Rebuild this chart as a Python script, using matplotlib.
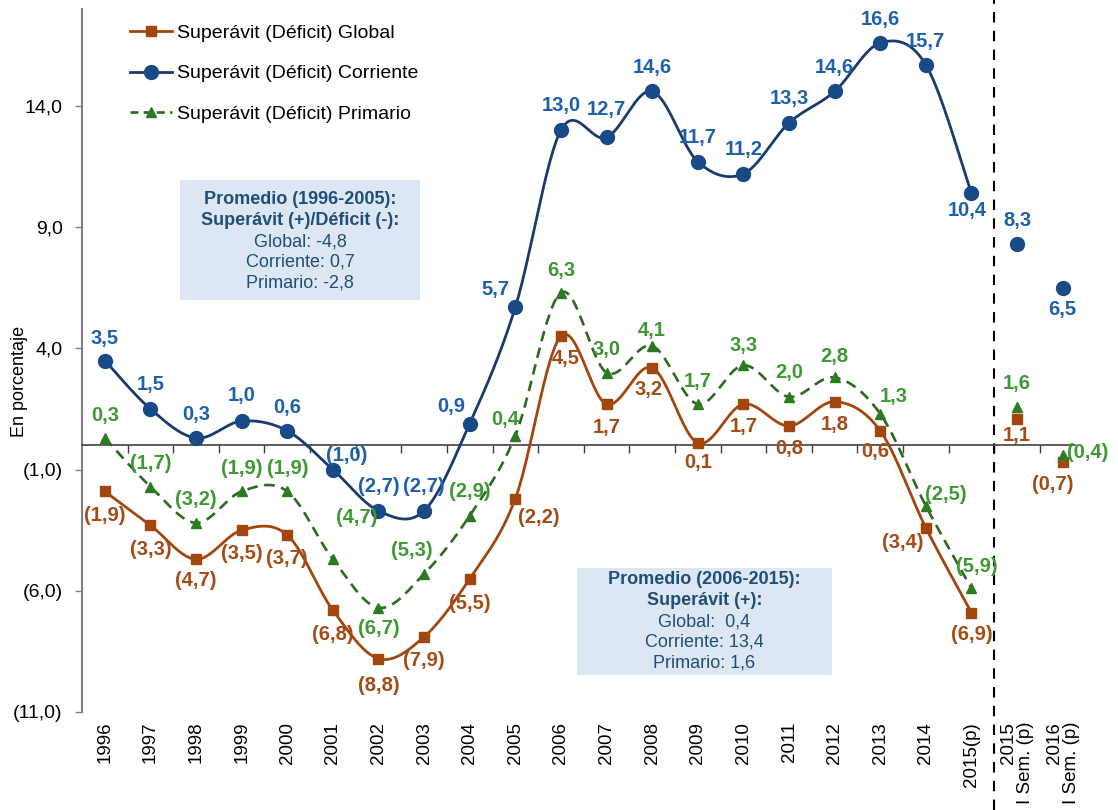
import numpy as np
import matplotlib.pyplot as plt
import matplotlib.transforms as mtransforms
from matplotlib.patches import Rectangle
from matplotlib.lines import Line2D

plt.rcParams['font.family'] = ['Liberation Sans', 'DejaVu Sans']

# Datos (en porcentaje)
categorias = ['1996', '1997', '1998', '1999', '2000', '2001', '2002', '2003',
              '2004', '2005', '2006', '2007', '2008', '2009', '2010', '2011',
              '2012', '2013', '2014', '2015(p)',
              '2015\nI Sem. (p)', '2016\nI Sem. (p)']

global_ = [-1.9, -3.3, -4.7, -3.5, -3.7, -6.8, -8.8, -7.9, -5.5, -2.2,
           4.5, 1.7, 3.2, 0.1, 1.7, 0.8, 1.8, 0.6, -3.4, -6.9]
corriente = [3.5, 1.5, 0.3, 1.0, 0.6, -1.0, -2.7, -2.7, 0.9, 5.7,
             13.0, 12.7, 14.6, 11.7, 11.2, 13.3, 14.6, 16.6, 15.7, 10.4]
primario = [0.3, -1.7, -3.2, -1.9, -1.9, -4.7, -6.7, -5.3, -2.9, 0.4,
            6.3, 3.0, 4.1, 1.7, 3.3, 2.0, 2.8, 1.3, -2.5, -5.9]

# semestrales (I Sem. 2015, I Sem. 2016)
global_sem = [1.1, -0.7]
corriente_sem = [8.3, 6.5]
primario_sem = [1.6, -0.4]

yticks = [-11, -6, -1, 4, 9, 14]

# desplazamiento de las etiquetas (pixeles)
off_global = [(0, -24), (0, -24), (0, -21), (0, -23), (0, -23), (0, -24), (0, -27),
              (0, -24), (0, -25), (23, -19), (5, -22), (0, -23), (-4, -22), (0, -20),
              (0, -22), (0, -23), (0, -23), (-5, -21), (-23, -15), (0, -22),
              (0, -17), (-10, -22)]
off_corriente = [(0, 22), (0, 24), (0, 24), (0, 26), (0, 23), (14, 14), (0, 24),
                 (0, 24), (-18, 17), (-20, 18), (0, 25), (0, 28), (0, 24), (0, 24),
                 (0, 24), (0, 24), (0, 24), (0, 23), (0, 23), (-4, -17),
                 (0, 24), (0, -22)]
off_primario = [(0, 23), (0, 23), (0, 23), (0, 23), (0, 23), (24, 42), (0, -21),
                (-12, 23), (0, 24), (-10, 16), (0, 22), (0, 23), (0, 15), (0, 23),
                (0, 20), (0, 24), (0, 21), (14, 17), (20, 11), (5, 22),
                (0, 23), (25, 3)]


def suavizar(y, n=30):
    '''Curva suavizada (bezier tipo Catmull-Rom) como las lineas de Excel'''
    x = np.arange(len(y), dtype=float)
    y = np.asarray(y, dtype=float)
    xs, ys = [], []
    t = np.linspace(0, 1, n)
    for i in range(len(y) - 1):
        i0 = max(i - 1, 0)
        i3 = min(i + 2, len(y) - 1)
        p0 = np.array([x[i], y[i]])
        p3 = np.array([x[i + 1], y[i + 1]])
        c1 = p0 + (p3 - np.array([x[i0], y[i0]])) / 6
        c2 = p3 - (np.array([x[i3], y[i3]]) - p0) / 6
        b = ((1 - t) ** 3)[:, None] * p0 + (3 * (1 - t) ** 2 * t)[:, None] * c1 \
            + (3 * (1 - t) * t ** 2)[:, None] * c2 + (t ** 3)[:, None] * p3
        xs.extend(b[:, 0])
        ys.extend(b[:, 1])
    return np.array(xs), np.array(ys)


def fmt(v):
    s = ('%.1f' % abs(v)).replace('.', ',')
    return '(%s)' % s if v < 0 else s


c_glob, c_glob_txt = '#A2460E', '#A54B15'
c_corr_line, c_corr_mk, c_corr_txt = '#1B3A6C', '#184A88', '#1F60AB'
c_prim, c_prim_mk, c_prim_txt = '#2B6A1F', '#2E7A22', '#3E9833'

fig = plt.figure(figsize=(11.18, 8.10), dpi=100)
ax = fig.add_axes([82 / 1118, 1 - 712 / 810, 993 / 1118, 703 / 810])

n = len(global_)
xi = np.arange(n)
xsem = np.arange(n, n + 2)

# lineas suavizadas
sx, sy = suavizar(global_)
ax.plot(sx, sy, color=c_glob, lw=2, zorder=3)
ax.plot(xi, global_, 's', color=c_glob, ms=7, zorder=4)
ax.plot(xsem, global_sem, 's', color=c_glob, ms=7, zorder=4)

sx, sy = suavizar(corriente)
ax.plot(sx, sy, color=c_corr_line, lw=2, zorder=3)
ax.plot(xi, corriente, 'o', color=c_corr_mk, ms=10, zorder=4)
ax.plot(xsem, corriente_sem, 'o', color=c_corr_mk, ms=10, zorder=4)

sx, sy = suavizar(primario)
ax.plot(sx, sy, color=c_prim, lw=1.9, ls=(0, (4, 2.5)), zorder=3)
ax.plot(xi, primario, '^', color=c_prim_mk, ms=7, zorder=4)
ax.plot(xsem, primario_sem, '^', color=c_prim_mk, ms=7, zorder=4)

# etiquetas de datos
for vals, offs, col in [(global_ + global_sem, off_global, c_glob_txt),
                        (corriente + corriente_sem, off_corriente, c_corr_txt),
                        (primario + primario_sem, off_primario, c_prim_txt)]:
    for i, v in enumerate(vals):
        ax.annotate(fmt(v), (i, v), xytext=offs[i], textcoords='offset pixels',
                    ha='center', va='center', fontsize=14.5, fontweight='bold',
                    color=col, zorder=5)

# ejes
ax.set_xlim(-0.5, 21.27)
ax.set_ylim(-11, 18)
ax.set_yticks(yticks)
ax.set_yticklabels([fmt(v) for v in yticks], fontsize=14)
ax.tick_params(axis='y', direction='out', length=5, width=1, color='#808080', pad=9)
ax.spines['left'].set_color('#808080')
ax.spines['left'].set_linewidth(1.5)
ax.spines['top'].set_visible(False)
ax.spines['right'].set_visible(False)
ax.spines['bottom'].set_position(('data', 0))
ax.spines['bottom'].set_color('#404040')
ax.spines['bottom'].set_linewidth(1.2)
ax.set_xticks(np.arange(0.5, n + 1, 1))
ax.set_xticklabels([])
ax.tick_params(axis='x', direction='out', length=6, width=1, color='#404040')

trans = mtransforms.blended_transform_factory(ax.transData, ax.transAxes)
for i, lab in enumerate(categorias):
    ax.text(i, -0.014, lab, transform=trans, rotation=90, ha='center', va='top',
            multialignment='right', fontsize=13.5, linespacing=1.0)

ax.set_ylabel('En porcentaje', fontsize=13)
ax.yaxis.set_label_coords(-0.054, 0.47)

# linea divisoria
ax.axvline(19.5, ymin=-0.14, ymax=1.013, color='black', lw=1.5,
           ls=(0, (5, 4)), clip_on=False, zorder=2)

# leyenda
handles = [Line2D([], [], color=c_glob, lw=2, marker='s', ms=7),
           Line2D([], [], color=c_corr_line, lw=2, marker='o', ms=10,
                  markerfacecolor=c_corr_mk, markeredgecolor=c_corr_mk),
           Line2D([], [], color=c_prim, lw=1.9, ls=(0, (3, 2)), marker='^', ms=7,
                  markerfacecolor=c_prim_mk, markeredgecolor=c_prim_mk)]
fig.legend(handles, ['Superávit (Déficit) Global', 'Superávit (Déficit) Corriente',
                     'Superávit (Déficit) Primario'],
           loc='upper left', bbox_to_anchor=(112 / 1118, 1 - 7 / 810),
           frameon=False, fontsize=14, handlelength=2.16, labelspacing=1.17,
           handletextpad=0.3)

# recuadros de promedios
cajas = [((180, 180, 240, 120), 200,
          ['Promedio (1996-2005):', 'Superávit (+)/Déficit (-):'],
          ['Global: -4,8', 'Corriente: 0,7', 'Primario: -2,8']),
         ((577, 568, 255, 107), 580,
          ['Promedio (2006-2015):', 'Superávit (+):'],
          ['Global:  0,4', 'Corriente: 13,4', 'Primario: 1,6'])]
W, H = 1118, 810
for (x0, y0, w, h), ytxt, negritas, normales in cajas:
    fig.patches.append(Rectangle((x0 / W, 1 - (y0 + h) / H), w / W, h / H,
                                 transform=fig.transFigure, facecolor='#DCE7F3',
                                 edgecolor='none', zorder=1))
    xc = (x0 + w / 2) / W
    lineas = [(t, 'bold') for t in negritas] + [(t, 'normal') for t in normales]
    for k, (t, peso) in enumerate(lineas):
        fig.text(xc, 1 - (ytxt + 20.8 * k) / H, t, ha='center', va='center',
                 fontsize=13, fontweight=peso, color='#1F4E79', zorder=6)

fig.savefig('out.png', dpi=100)
